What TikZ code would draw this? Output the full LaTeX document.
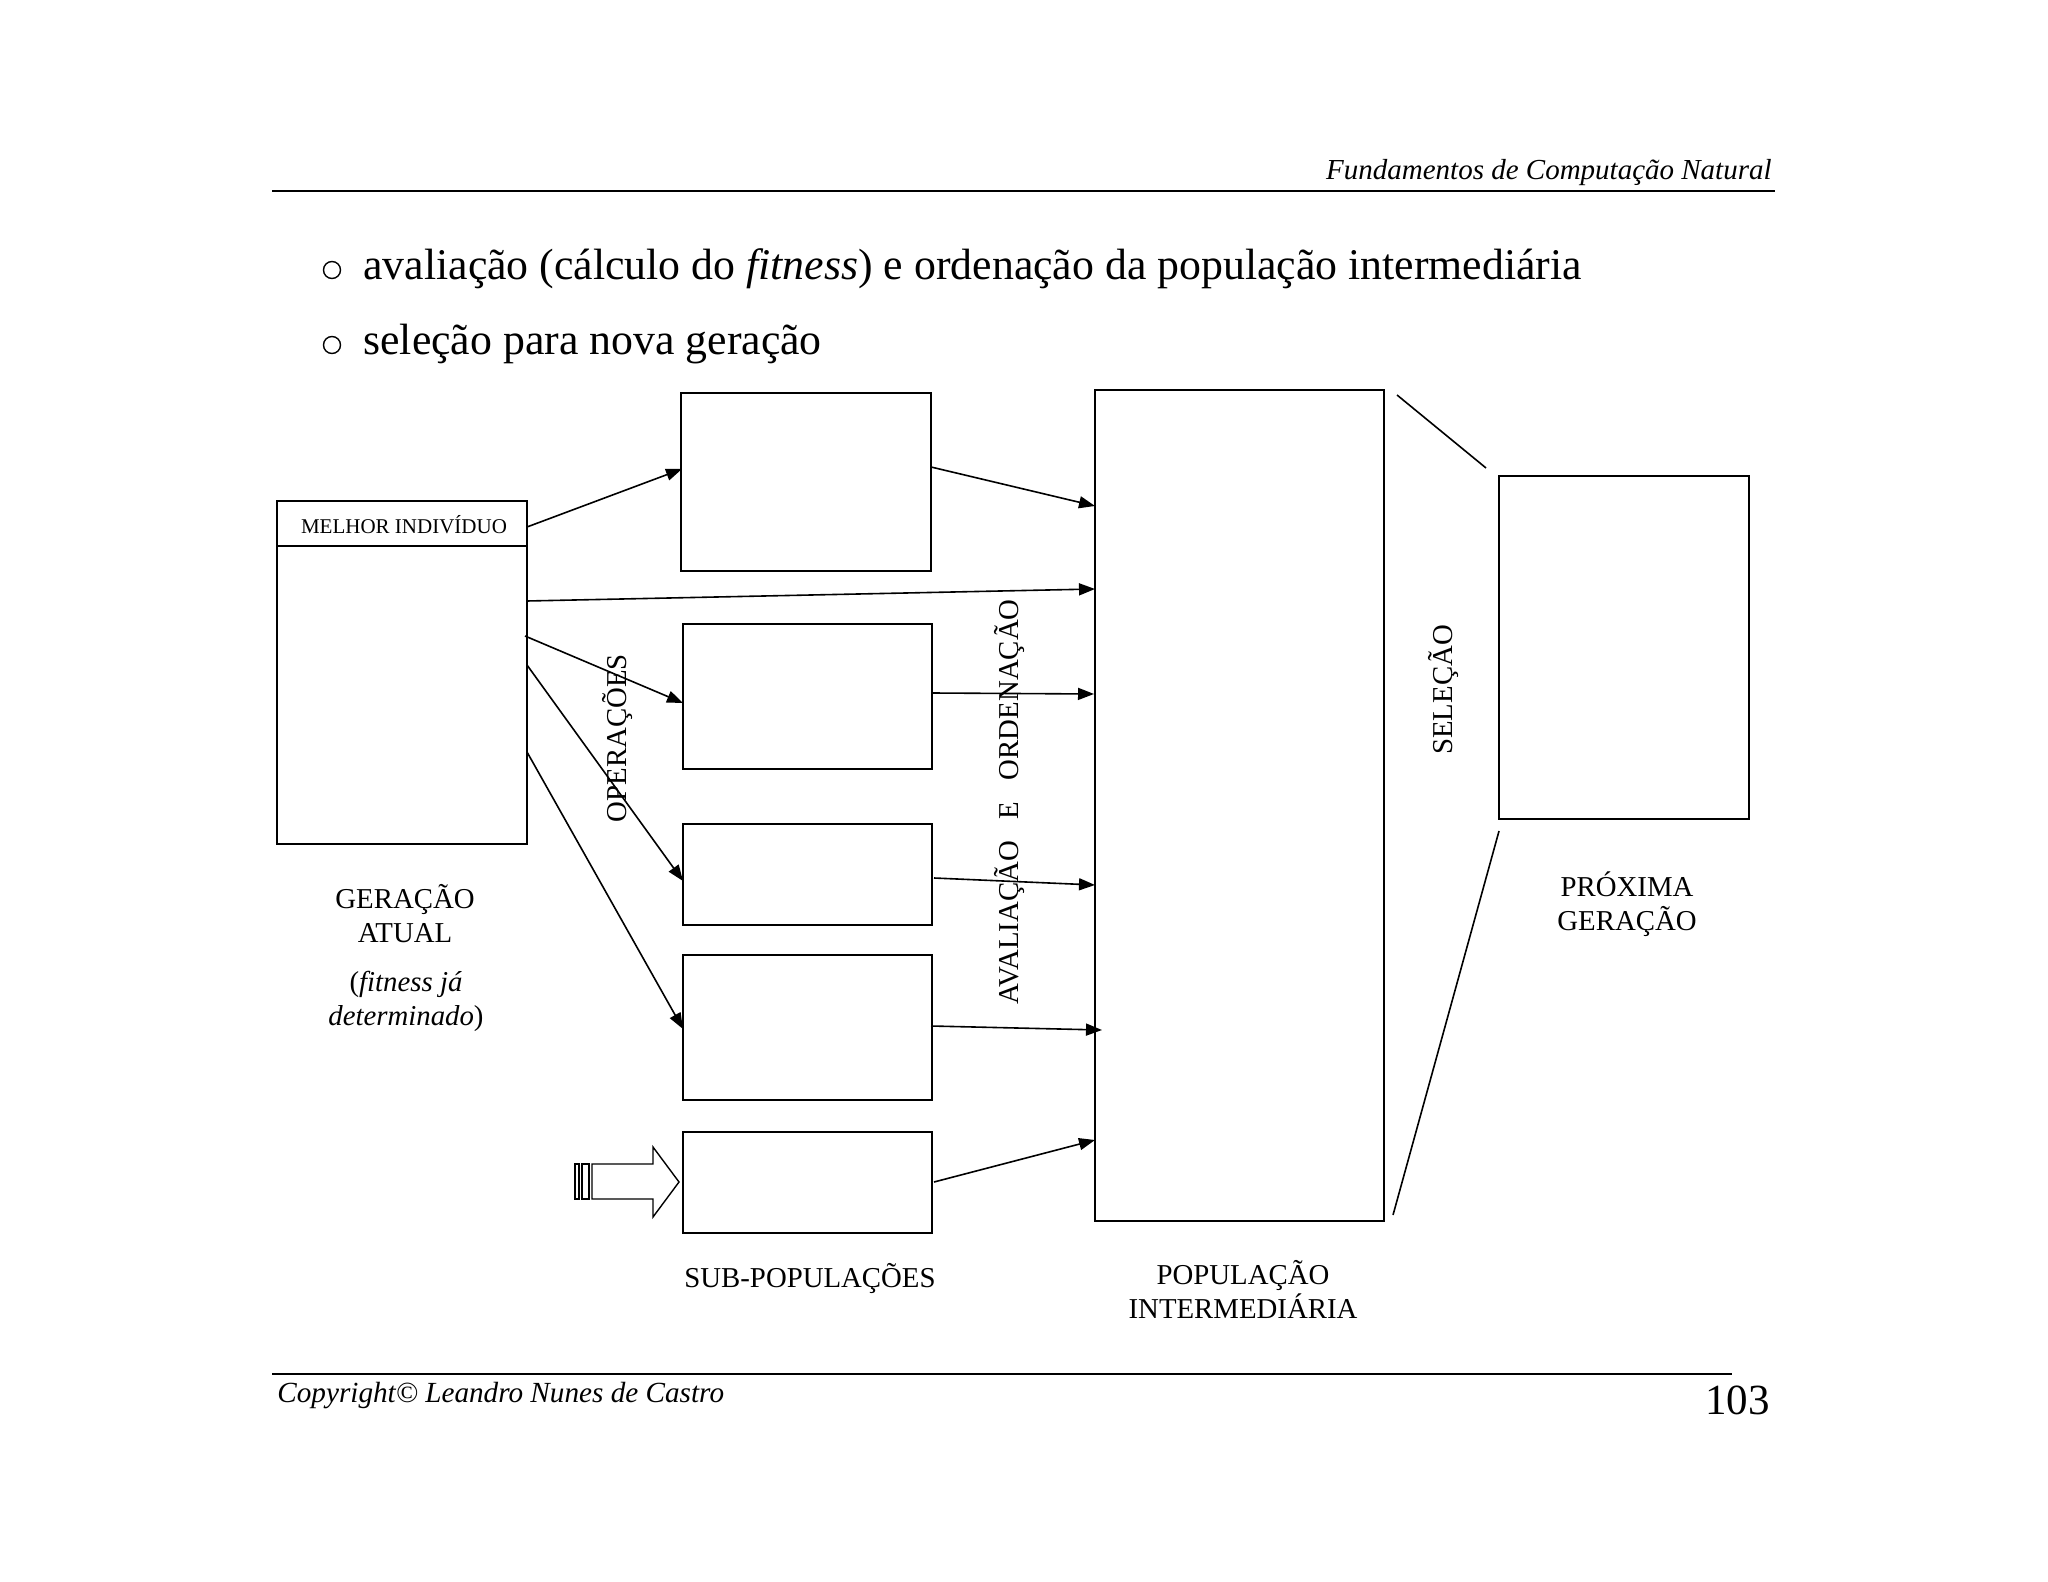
\documentclass[tikz,border=0pt]{standalone}
\usepackage{fontspec}
\setmainfont{Liberation Serif}
\usetikzlibrary{arrows.meta,calc}
\newcommand\lblfont{\fontsize{14.4pt}{17pt}\selectfont}
\begin{document}
\begin{tikzpicture}[x=0.5pt,y=-0.5pt,
  box/.style={draw,line width=1pt,inner sep=0pt,outer sep=0pt,anchor=north west},
  arr/.style={-{Triangle[length=8pt,width=6pt]},line width=0.8pt},
  plain/.style={line width=0.8pt},
  lbl/.style={inner sep=0pt,font=\lblfont,align=center},
  rule/.style={line width=1pt}]
\useasboundingbox (0,0) rectangle (2048,1582);
% header / footer
\node[inner sep=0pt,anchor=base east,font=\fontsize{14.5pt}{17pt}\selectfont\itshape] (hdr) at (1772,180) {Fundamentos de Computação Natural};
\coordinate (hl) at (272,191); \coordinate (hr) at (1775,191);
\draw[rule] (hl) -- (hr);
\coordinate (fl) at (272,1374); \coordinate (fr) at (1732,1374);
\draw[rule] (fl) -- (fr);
\node[inner sep=0pt,anchor=base west,font=\fontsize{14.6pt}{17pt}\selectfont\itshape] (ftr) at (277,1402) {Copyright© Leandro Nunes de Castro};
\node[inner sep=0pt,anchor=base east,font=\fontsize{21.5pt}{25pt}\selectfont] (pg) at (1770,1414) {103};
% bullets
\node[draw,circle,line width=0.7pt,minimum size=8.5pt,inner sep=0pt] (b1) at (332,270) {};
\node[inner sep=0pt,anchor=base west,font=\fontsize{21.9pt}{25pt}\selectfont] (t1) at (363,280) {avaliação (cálculo do \textit{fitness}) e ordenação da população intermediária};
\node[draw,circle,line width=0.7pt,minimum size=8.5pt,inner sep=0pt] (b2) at (332,345) {};
\node[inner sep=0pt,anchor=base west,font=\fontsize{21.9pt}{25pt}\selectfont] (t2) at (363,355) {seleção para nova geração};
% boxes
\node[box,minimum width=125pt,minimum height=171.5pt] (gen) at (277,501) {};
\draw[line width=1pt] ($(gen.north west)+(0,45)$) -- ($(gen.north east)+(0,45)$);
\node[inner sep=0pt,font=\fontsize{10.5pt}{12pt}\selectfont] (mel) at ($(gen.north)+(2,24)$) {MELHOR INDIVÍDUO};
\node[box,minimum width=125pt,minimum height=89pt] (A) at (681,393) {};
\node[box,minimum width=124.5pt,minimum height=72.5pt] (B) at (683,624) {};
\node[box,minimum width=124.5pt,minimum height=50.5pt] (C) at (683,824) {};
\node[box,minimum width=124.5pt,minimum height=72.5pt] (D) at (683,955) {};
\node[box,minimum width=124.5pt,minimum height=50.5pt] (E) at (683,1132) {};
\node[box,minimum width=144.5pt,minimum height=415.5pt] (pop) at (1095,390) {};
\node[box,minimum width=125pt,minimum height=171.5pt] (nxt) at (1499,476) {};
% arrows
\draw[arr] ($(gen.north east)+(0,26)$) -- ($(A.north west)+(1,76)$);
\draw[arr] ($(A.north east)+(0,74)$) -- ($(pop.north west)+(0,116)$);
\draw[arr] ($(gen.north east)+(0,100)$) -- ($(pop.north west)+(0,199)$);
\draw[arr] ($(gen.north east)+(-2,135)$) -- ($(B.north west)+(0,79)$);
\draw[arr] ($(B.north east)+(0,69)$) -- ($(pop.north west)+(-1,304)$);
\draw[arr] ($(gen.north east)+(0,164)$) -- ($(C.north west)+(0,57)$);
\draw[arr] ($(C.north east)+(2,54)$) -- ($(pop.north west)+(0,495)$);
\draw[arr] ($(gen.north east)+(0,251)$) -- ($(D.north west)+(0,74)$);
\draw[arr] ($(D.north east)+(-1,71)$) -- ($(pop.north west)+(7,640)$);
\draw[arr] ($(E.north east)+(2,50)$) -- ($(pop.north west)+(0,750)$);
% selection lines
\draw[plain] ($(pop.north east)+(13,5)$) -- ($(nxt.north west)+(-13,-8)$);
\draw[plain] ($(nxt.south west)+(0,12)$) -- ($(pop.south east)+(9,-6)$);
% striped block arrow
\draw[line width=0.7pt] (592,1164) -- (653,1164) -- (653,1147) -- (679,1182) -- (653,1217) -- (653,1199) -- (592,1199) -- cycle;
\draw[line width=0.7pt] (575,1164) rectangle (579,1199);
\draw[line width=0.7pt] (582,1164) rectangle (589,1199);
% labels
\node[lbl] (ga) at (405,913.5) {GERAÇÃO\\ATUAL};
\node[lbl] (fj) at (406,1001.5) {(\textit{fitness já}\\\textit{determinado})};
\node[lbl] (px) at (1627,904.5) {PRÓXIMA\\GERAÇÃO};
\node[lbl] (sp) at (810,1279) {SUB-POPULAÇÕES};
\node[lbl] (pi) at (1243,1289) {POPULAÇÃO\\INTERMEDIÁRIA};
\node[lbl,rotate=90] (op) at (618,738) {OPERAÇÕES};
\node[lbl,rotate=90] (av) at (1009,802) {AVALIAÇÃO\hspace{0.75em}E\hspace{0.75em}ORDENAÇÃO};
\node[lbl,rotate=90] (se) at (1443,690) {SELEÇÃO};
\end{tikzpicture}
\end{document}
